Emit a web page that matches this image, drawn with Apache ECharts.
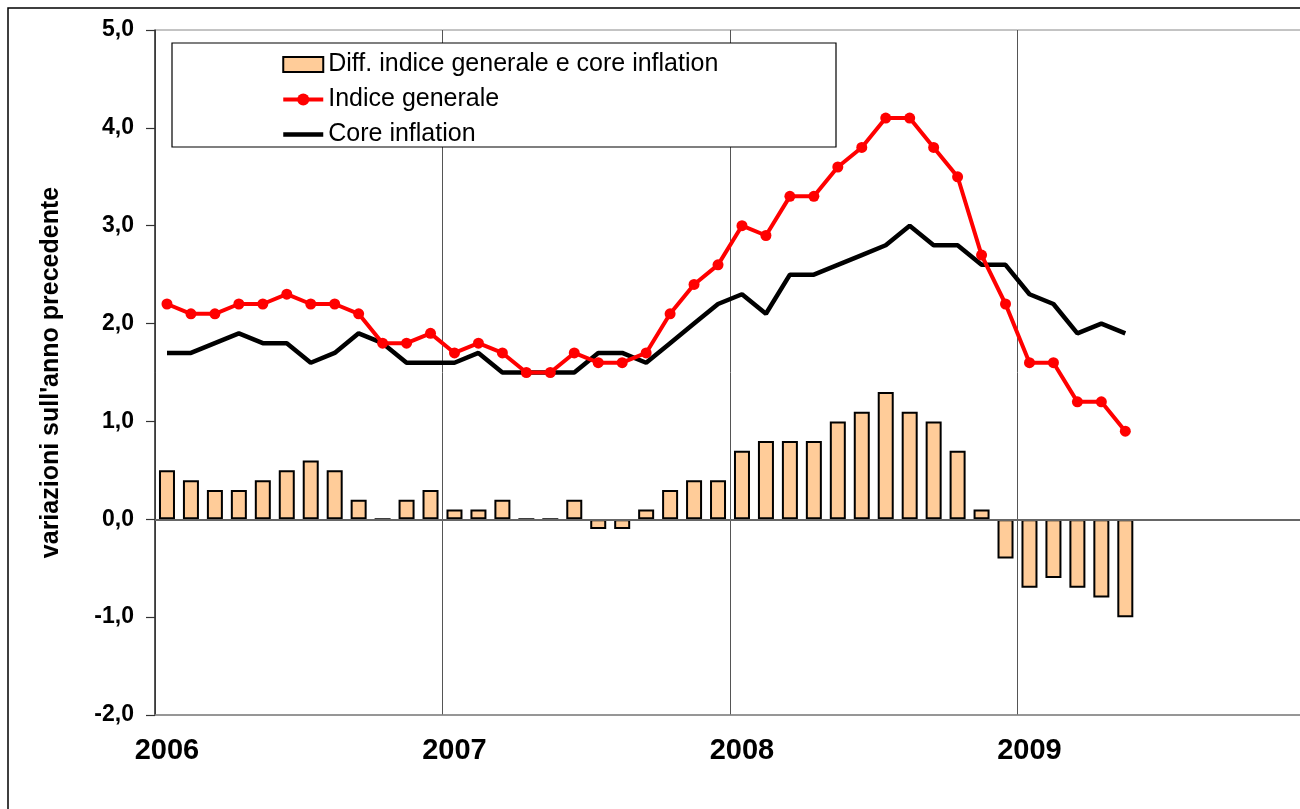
<!DOCTYPE html>
<html>
<head>
<meta charset="utf-8">
<script src="https://cdn.jsdelivr.net/npm/echarts@6/dist/echarts.min.js"></script>
<style>html,body{margin:0;padding:0;background:#fff;overflow:hidden}#c{width:1305px;height:809px}</style>
</head>
<body>
<div id="c"></div>
<script>
const categories = [
  '2006-01','2006-02','2006-03','2006-04','2006-05','2006-06','2006-07','2006-08','2006-09','2006-10','2006-11','2006-12',
  '2007-01','2007-02','2007-03','2007-04','2007-05','2007-06','2007-07','2007-08','2007-09','2007-10','2007-11','2007-12',
  '2008-01','2008-02','2008-03','2008-04','2008-05','2008-06','2008-07','2008-08','2008-09','2008-10','2008-11','2008-12',
  '2009-01','2009-02','2009-03','2009-04','2009-05','2009-06','2009-07','2009-08','2009-09','2009-10','2009-11','2009-12'
];
const diffValues = [
  0.5,0.4,0.3,0.3,0.4,0.5,0.6,0.5,0.2,0.0,0.2,0.3,
  0.1,0.1,0.2,0.0,0.0,0.2,-0.1,-0.1,0.1,0.3,0.4,0.4,
  0.7,0.8,0.8,0.8,1.0,1.1,1.3,1.1,1.0,0.7,0.1,-0.4,
  -0.7,-0.6,-0.7,-0.8,-1.0,null,null,null,null,null,null,null
];
const indiceGenerale = [
  2.2,2.1,2.1,2.2,2.2,2.3,2.2,2.2,2.1,1.8,1.8,1.9,
  1.7,1.8,1.7,1.5,1.5,1.7,1.6,1.6,1.7,2.1,2.4,2.6,
  3.0,2.9,3.3,3.3,3.6,3.8,4.1,4.1,3.8,3.5,2.7,2.2,
  1.6,1.6,1.2,1.2,0.9,null,null,null,null,null,null,null
];
const coreInflation = [
  1.7,1.7,1.8,1.9,1.8,1.8,1.6,1.7,1.9,1.8,1.6,1.6,
  1.6,1.7,1.5,1.5,1.5,1.5,1.7,1.7,1.6,1.8,2.0,2.2,
  2.3,2.1,2.5,2.5,2.6,2.7,2.8,3.0,2.8,2.8,2.6,2.6,
  2.3,2.2,1.9,2.0,1.9,null,null,null,null,null,null,null
];
const seriesNames = ['Diff. indice generale e core inflation', 'Indice generale', 'Core inflation'];
const yAxisTitle = "variazioni sull'anno precedente";

const FONT = '"Liberation Sans", Arial, sans-serif';
const chart = echarts.init(document.getElementById('c'), null, {renderer: 'canvas'});
chart.setOption({
  animation: false,
  backgroundColor: '#ffffff',
  textStyle: {fontFamily: FONT, color: '#000'},
  graphic: [
    {type: 'rect', shape: {x: 8, y: 8, width: 1400, height: 900},
     style: {fill: 'none', stroke: '#000', lineWidth: 1.5}, silent: true, z: 100},
    {type: 'rect', shape: {x: 172, y: 43, width: 664, height: 104},
     style: {fill: '#fff', stroke: '#000', lineWidth: 1.2}, silent: true, z: 5}
  ],
  grid: {left: 155, top: 30, right: 0, bottom: 94, show: true, borderColor: '#888', borderWidth: 1, containLabel: false},
  legend: {
    orient: 'vertical', left: 281, top: 52, padding: 0, itemGap: 10,
    itemWidth: 40, itemHeight: 15, z: 10,
    lineStyle: {width: 'inherit'},
    data: [
      {name: seriesNames[0], icon: 'rect'},
      {name: seriesNames[1]},
      {name: seriesNames[2], itemStyle: {color: 'rgba(0,0,0,0)', borderWidth: 0}}
    ],
    textStyle: {fontFamily: FONT, fontSize: 25, lineHeight: 24, color: '#000'}
  },
  xAxis: {
    type: 'category', data: categories, boundaryGap: true,
    axisLine: {onZero: false, lineStyle: {color: '#888', width: 1.5}},
    axisTick: {show: false, interval: 11},
    axisLabel: {interval: 11, margin: 21, fontSize: 29, fontWeight: 'bold', color: '#000', fontFamily: FONT,
      formatter: v => v.slice(0, 4)},
    splitLine: {show: true, interval: 11, lineStyle: {color: '#555', width: 1}}
  },
  yAxis: {
    type: 'value', min: -2, max: 5, interval: 1,
    name: yAxisTitle, nameLocation: 'middle', nameRotate: 90, nameGap: 91,
    nameTextStyle: {fontSize: 25, fontWeight: 'bold', color: '#000', fontFamily: FONT},
    axisLine: {show: true, lineStyle: {color: '#333', width: 1.5}},
    axisTick: {show: true, inside: false, length: 9, lineStyle: {color: '#333', width: 1.2}},
    axisLabel: {margin: 21, fontSize: 23, fontWeight: 'bold', color: '#000', fontFamily: FONT,
      formatter: v => v.toFixed(1).replace('.', ',')},
    splitLine: {show: false}
  },
  series: [
    {
      name: seriesNames[0], type: 'bar', data: diffValues, barWidth: 16, z: 2,
      itemStyle: {color: '#FFCC99', borderColor: '#000', borderWidth: 2}
    },
    {
      name: seriesNames[2], type: 'line', data: coreInflation, z: 3,
      symbol: 'none', lineStyle: {color: '#000', width: 4.5}, itemStyle: {color: '#000'},
      markLine: {silent: true, symbol: 'none', label: {show: false},
        lineStyle: {color: '#666', width: 2, type: 'solid'}, data: [{yAxis: 0}]}
    },
    {
      name: seriesNames[1], type: 'line', data: indiceGenerale, z: 4,
      symbol: 'circle', symbolSize: 11, lineStyle: {color: '#FF0000', width: 4}, itemStyle: {color: '#FF0000'}
    }
  ]
});
</script>
</body>
</html>
